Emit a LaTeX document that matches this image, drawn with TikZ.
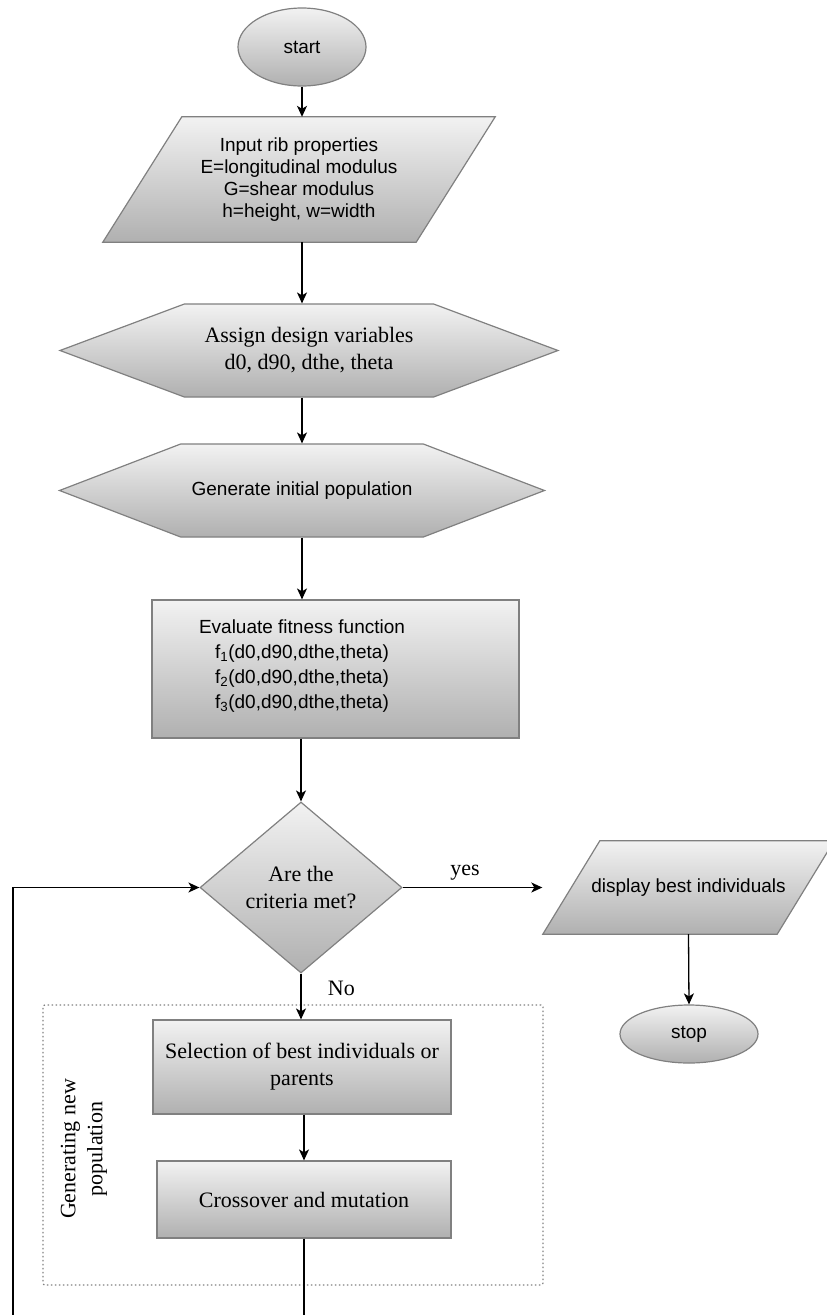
\documentclass[tikz,border=0pt]{standalone}
\usepackage{fontspec}
\setmainfont{Liberation Serif}
\newfontfamily\arialfont{Liberation Sans}
\usetikzlibrary{shapes.geometric, shapes.symbols, arrows.meta, backgrounds}
\definecolor{shadetop}{HTML}{F2F2F2}
\definecolor{shadebot}{HTML}{B0B0B0}
\definecolor{rimgray}{HTML}{808080}

\begin{document}
\begin{tikzpicture}[x=1pt, y=-1pt,
  shaded/.style={draw=rimgray, line width=1.2pt, top color=shadetop, bottom color=shadebot, align=center, inner sep=0pt},
  sanstext/.style={font=\arialfont\fontsize{19}{22}\selectfont},
  seriftext/.style={font=\fontsize{22}{27}\selectfont},
  terminal/.style={shaded, sanstext, ellipse},
  io/.style={sanstext, rectangle, align=center, inner sep=0pt},
  parashape/.style={draw=rimgray, line width=1.2pt, top color=shadetop, bottom color=shadebot},
  prep/.style={shaded, signal, signal to=west and east},
  process/.style={shaded, rectangle},
  decision/.style={shaded, seriftext, diamond, aspect=1.18},
  arr/.style={-{Stealth[length=11pt, width=10pt, inset=3pt]}, line width=1.3pt}]
  \useasboundingbox (0,0) rectangle (827,1315);

  % Nodes
  \node[terminal, minimum width=128pt, minimum height=78pt] (start) at (302,47) {start};
  \node[io, minimum width=313pt, minimum height=125pt] (input) at (299,179.5)
    {Input rib properties\\E=longitudinal modulus\\G=shear modulus\\h=height, w=width};
  \node[prep, seriftext, signal pointer angle=41, minimum width=498pt, minimum height=93pt] (assign) at (309,350.5)
    {Assign design variables\\d0, d90, dthe, theta};
  \node[prep, sanstext, signal pointer angle=42, minimum width=485pt, minimum height=93pt] (generate) at (302,490.5)
    {Generate initial population};
  \node[process, minimum width=367pt, minimum height=138pt] (eval) at (335.5,669) {};
  \node[font=\arialfont\fontsize{19}{25}\selectfont, align=center] (evaltext) at (302,666)
    {Evaluate fitness function\\f\textsubscript{1}(d0,d90,dthe,theta)\\f\textsubscript{2}(d0,d90,dthe,theta)\\f\textsubscript{3}(d0,d90,dthe,theta)};
  \node[decision, minimum width=202pt, minimum height=171pt] (crit) at (301,887.5) {Are the\\criteria met?};
  \node[io, minimum width=234pt, minimum height=93pt] (disp) at (688.5,887.5) {display best individuals};
  \node[terminal, minimum width=138pt, minimum height=58pt] (stop) at (689,1034) {stop};

  % Parallelograms behind the input/output texts
  \begin{scope}[on background layer]
    \path[parashape] ([xshift=39.5pt]input.north west) -- ([xshift=39.5pt]input.north east)
      -- ([xshift=-39.5pt]input.south east) -- ([xshift=-39.5pt]input.south west) -- cycle;
    \path[parashape] ([xshift=28.5pt]disp.north west) -- ([xshift=28.5pt]disp.north east)
      -- ([xshift=-28.5pt]disp.south east) -- ([xshift=-28.5pt]disp.south west) -- cycle;
  \end{scope}

  % New population group
  \node[draw=rimgray, line width=1.2pt, dash pattern=on 1.5pt off 2.5pt, rounded corners=2pt,
    minimum width=500pt, minimum height=280pt] (newpop) at (293,1145) {};
  \node[seriftext, rotate=90, align=center] (newpoplabel) at (84,1149) {Generating new\\population};
  \node[process, seriftext, minimum width=298pt, minimum height=94pt] (sel) at (302,1067)
    {Selection of best individuals or\\parents};
  \node[process, seriftext, minimum width=294pt, minimum height=77pt] (cross) at (304,1199.5)
    {Crossover and mutation};
  \coordinate (loopa) at (304,1315);
  \coordinate (loopb) at (13,1315);

  % Edges with labels
  \draw[arr] (start.south) -- (start.south |- input.north);
  \draw[arr] (start.south |- input.south) -- (start.south |- assign.north);
  \draw[arr] (start.south |- assign.south) -- (start.south |- generate.north);
  \draw[arr] (generate.south) -- (generate.south |- eval.north);
  \draw[arr] (crit.north |- eval.south) -- (crit.north);
  \draw[arr, shorten >=29pt] (crit.east) -- node[above=3pt, pos=0.37, seriftext] {yes} (disp.west);
  \draw[arr] (disp.south) -- (stop.north);
  \draw[arr] (crit.south) -- node[right=23pt, pos=0.32, seriftext] {No} (crit.south |- sel.north);
  \draw[arr] (cross.north |- sel.south) -- (cross.north);
  \draw[line width=1.3pt] (cross.south) -- (loopa);
  \draw[arr] (loopb) |- (crit.west);
\end{tikzpicture}
\end{document}
